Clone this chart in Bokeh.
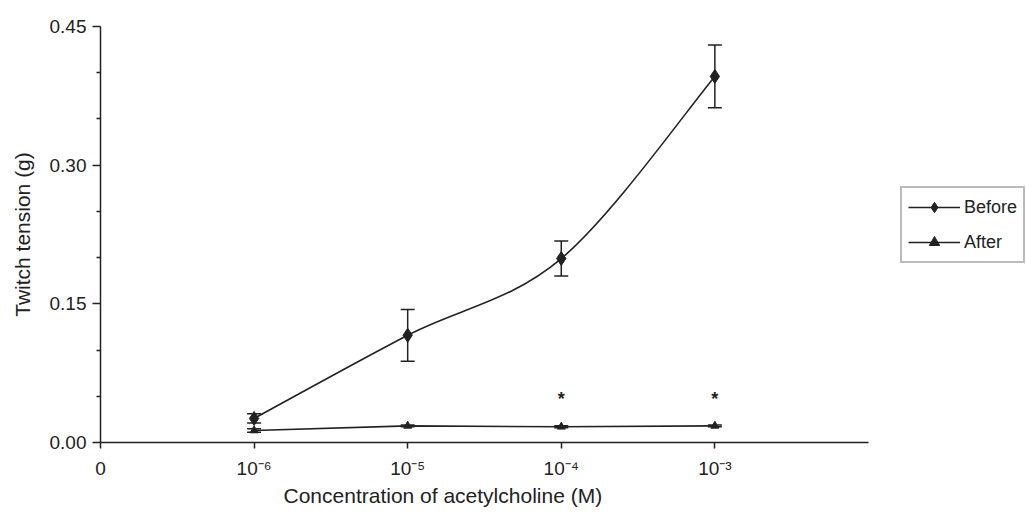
from bokeh.plotting import figure
from bokeh.models import (Range1d, FixedTicker, Whisker, TeeHead, ColumnDataSource,
                          Legend, LegendItem, Title, NumeralTickFormatter)
from bokeh.core.properties import value
from bokeh.embed import file_html
from bokeh.resources import INLINE

# ---- data ----
tick_positions = [0, 1, 2, 3, 4]
tick_labels = ["0", "10\u207b\u2076", "10\u207b\u2075", "10\u207b\u2074", "10\u207b\u00b3"]
conc_pos = [1, 2, 3, 4]
before_mean = [0.026, 0.116, 0.199, 0.396]
before_sem = [0.005, 0.028, 0.019, 0.034]
after_mean = [0.013, 0.018, 0.017, 0.018]
after_sem = [0.002, 0.001, 0.001, 0.001]
star_pos = [3, 4]
star_y = [0.047, 0.047]
y_ticks = [0.0, 0.15, 0.30, 0.45]
y_minor = [0.05, 0.10, 0.20, 0.25, 0.35, 0.40]

INK = "#222222"
FONT = "Liberation Sans"

# frame spans to the right edge so the legend can sit to the right of the axis
p = figure(width=1026, height=517, output_backend="svg", toolbar_location=None,
           x_range=Range1d(0, 6.029), y_range=Range1d(0, 0.45),
           min_border_left=100, min_border_right=0, min_border_top=26,
           min_border_bottom=75)
p.outline_line_color = None
p.xgrid.visible = False
p.ygrid.visible = False
p.background_fill_color = "white"
p.border_fill_color = "white"

# axes
p.xaxis.ticker = FixedTicker(ticks=tick_positions)
p.xaxis.major_label_overrides = {t: l for t, l in zip(tick_positions, tick_labels)}
p.xaxis.bounds = (0, 5)
p.xaxis.major_tick_out = 6
p.xaxis.major_tick_in = 0
p.xaxis.major_label_standoff = 9

p.yaxis.ticker = FixedTicker(ticks=y_ticks, minor_ticks=y_minor)
p.yaxis.formatter = NumeralTickFormatter(format="0.00")
p.yaxis.major_tick_out = 8
p.yaxis.major_tick_in = 0
p.yaxis.minor_tick_out = 4
p.yaxis.minor_tick_in = 0
p.yaxis.major_label_standoff = 6
p.yaxis.axis_label = "Twitch tension (g)"
p.yaxis.axis_label_standoff = 13
p.yaxis.axis_label_text_font_style = "normal"
p.yaxis.axis_label_text_font_size = "21px"
p.yaxis.axis_label_text_font = FONT
p.yaxis.axis_label_text_color = INK

for ax in (p.xaxis, p.yaxis):
    ax.axis_line_color = INK
    ax.axis_line_width = 1.5
    ax.major_tick_line_color = INK
    ax.major_tick_line_width = 1.5
    ax.major_label_text_font = FONT
    ax.major_label_text_font_size = "19px"
    ax.major_label_text_color = INK
p.xaxis.minor_tick_line_color = None
p.yaxis.minor_tick_line_color = INK
p.yaxis.minor_tick_line_width = 1.5

# x axis label, placed left of centre as in the original
p.add_layout(Title(text="Concentration of acetylcholine (M)", align="left", offset=183,
                   text_font=FONT, text_font_size="21px", text_font_style="normal",
                   text_color=INK, standoff=0), "below")

# ---- Before: smooth curve through the points (Catmull-Rom as cubic Beziers) ----
xs = conc_pos
ys = before_mean
n = len(xs)
bx0, by0, bx1, by1, bcx0, bcy0, bcx1, bcy1 = [], [], [], [], [], [], [], []
for i in range(n - 1):
    xm = xs[i - 1] if i > 0 else xs[i]
    ym = ys[i - 1] if i > 0 else ys[i]
    xp = xs[i + 2] if i + 2 < n else xs[i + 1]
    yp = ys[i + 2] if i + 2 < n else ys[i + 1]
    bx0.append(xs[i]); by0.append(ys[i])
    bx1.append(xs[i + 1]); by1.append(ys[i + 1])
    bcx0.append(xs[i] + (xs[i + 1] - xm) / 6.0)
    bcy0.append(ys[i] + (ys[i + 1] - ym) / 6.0)
    bcx1.append(xs[i + 1] - (xp - xs[i]) / 6.0)
    bcy1.append(ys[i + 1] - (yp - ys[i]) / 6.0)
before_curve = p.bezier(x0=bx0, y0=by0, x1=bx1, y1=by1, cx0=bcx0, cy0=bcy0,
                        cx1=bcx1, cy1=bcy1, line_color=INK, line_width=1.6)

# error bars
src_b = ColumnDataSource(dict(x=conc_pos,
                              upper=[m + s for m, s in zip(before_mean, before_sem)],
                              lower=[m - s for m, s in zip(before_mean, before_sem)]))
src_a = ColumnDataSource(dict(x=conc_pos,
                              upper=[m + s for m, s in zip(after_mean, after_sem)],
                              lower=[m - s for m, s in zip(after_mean, after_sem)]))
for src in (src_b, src_a):
    w = Whisker(source=src, base="x", upper="upper", lower="lower",
                line_color=INK, line_width=1.5,
                upper_head=TeeHead(size=14, line_color=INK, line_width=1.5),
                lower_head=TeeHead(size=14, line_color=INK, line_width=1.5))
    p.add_layout(w)

# After line
after_line = p.line(conc_pos, after_mean, line_color=INK, line_width=1.6)

# markers
before_pts = p.scatter(conc_pos, before_mean, marker="diamond", size=14,
                       fill_color=INK, line_color=INK)
after_pts = p.scatter(conc_pos, after_mean, marker="triangle", size=8,
                      fill_color=INK, line_color=INK)

# single-point line used only as the legend's line sample for "Before"
before_line_proxy = p.line(x=conc_pos[:1], y=before_mean[:1], line_color=INK,
                           line_width=1.6)

# significance stars
p.text(x=star_pos, y=star_y, text=["*", "*"], text_font=value(FONT),
       text_font_size="18px", text_font_style="bold", text_color=INK,
       text_align="center", text_baseline="middle")

legend = Legend(items=[
    LegendItem(label="Before", renderers=[before_line_proxy, before_pts]),
    LegendItem(label="After", renderers=[after_line, after_pts]),
], location=(800, 179))
legend.border_line_color = "#777777"
legend.border_line_width = 2
legend.label_text_font = FONT
legend.label_text_font_size = "18px"
legend.label_text_color = INK
legend.glyph_width = 52
legend.glyph_height = 26
legend.spacing = 9
legend.padding = 6
legend.margin = 0
legend.label_standoff = 4
legend.background_fill_color = "white"
legend.background_fill_alpha = 1
p.add_layout(legend)

open("out.html", "w").write(file_html(p, INLINE))
